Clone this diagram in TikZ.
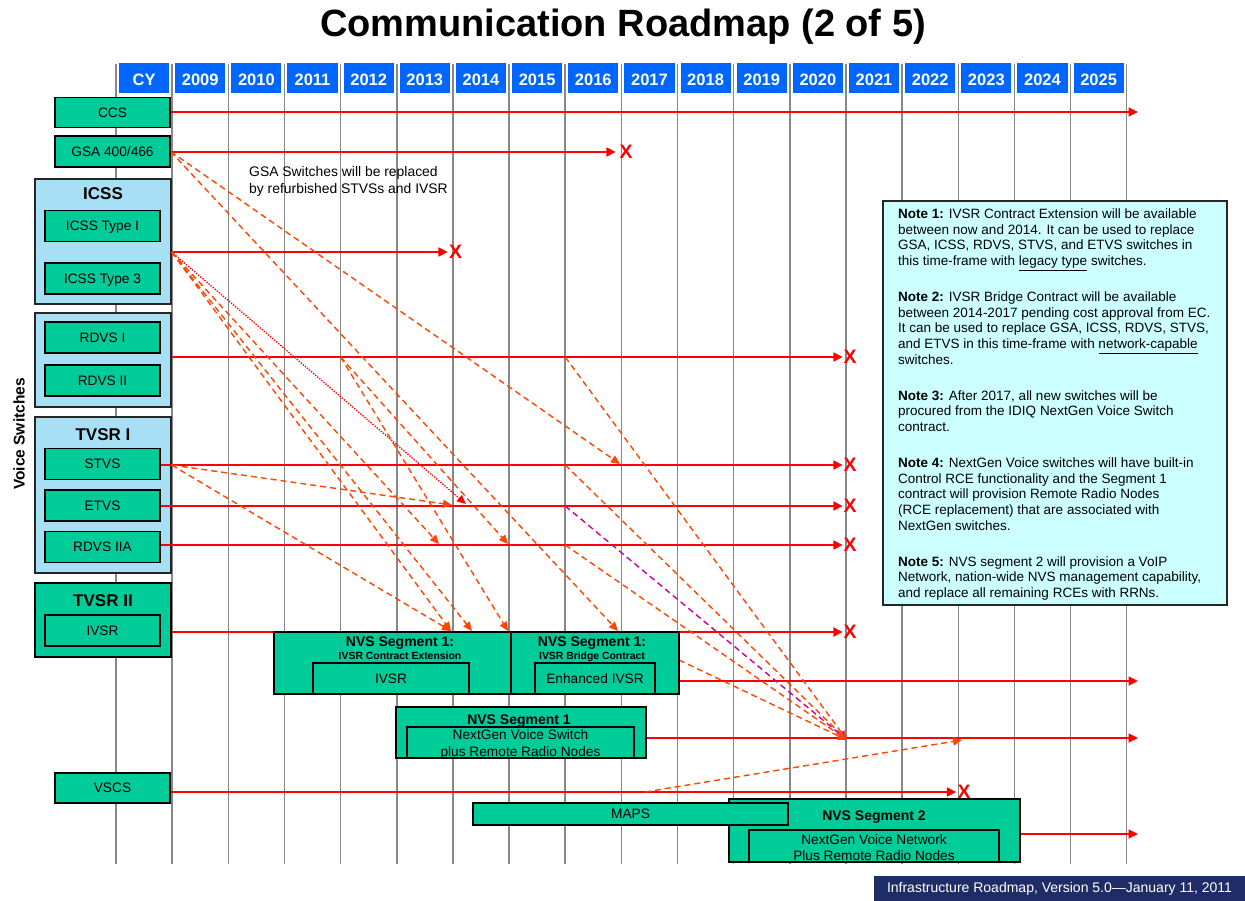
\documentclass[tikz,border=0pt]{standalone}
\usepackage{fontspec}
\setmainfont{Liberation Sans}
\usetikzlibrary{arrows.meta}
\pgfdeclarelayer{gridlayer}
\pgfdeclarelayer{grouplayer}
\pgfdeclarelayer{linelayer}
\pgfsetlayers{gridlayer,grouplayer,linelayer,main}
\definecolor{boxgreen}{RGB}{0,204,153}
\definecolor{grpblue}{RGB}{167,224,245}
\definecolor{hdrblue}{RGB}{0,102,255}
\definecolor{notecyan}{RGB}{204,255,255}
\definecolor{dashorange}{RGB}{255,69,0}
\definecolor{dashmag}{RGB}{204,0,153}
\definecolor{footnavy}{RGB}{31,45,102}
\definecolor{gridgray}{RGB}{136,136,136}
\definecolor{linered}{RGB}{255,0,0}
\newcommand{\myfs}[2]{\fontsize{#1}{#2}\selectfont}
\begin{document}
\begin{tikzpicture}[x=1pt,y=-1pt,
  every node/.style={inner sep=0pt},
  hdr/.style={fill=hdrblue, text=white, font=\bfseries\myfs{16.5}{18}, minimum width=50.15pt, minimum height=30pt, text height=14.8pt, text depth=0pt},
  gbox/.style={draw=black, line width=1.2pt, fill=boxgreen, font=\myfs{13.7}{16.6}, text height=9.8pt, text depth=0pt},
  grp/.style={draw=black!85, line width=1.2pt, fill=grpblue},
  glabel/.style={font=\bfseries\myfs{17}{20}},
  gridline/.style={draw=gridgray, line width=1.5pt},
  redarrow/.style={draw=linered, line width=1.7pt, -{Triangle[length=9.5pt,width=9pt]}},
  xmark/.style={text=linered, font=\bfseries\myfs{19.5}{20}},
  dasharrow/.style={draw=dashorange, line width=1.4pt, dash pattern=on 6pt off 4pt, -{Triangle[length=9pt,width=8pt]}},
  magarrow/.style={draw=dashmag, line width=1.4pt, dash pattern=on 6pt off 4pt, -{Triangle[length=9pt,width=8pt]}},
  dotarrow/.style={draw=linered, line width=1.3pt, dash pattern=on 1.4pt off 1.3pt, -{Triangle[length=9pt,width=8pt]}},
  segtitle/.style={font=\bfseries\myfs{14}{16}, anchor=base},
  segsub/.style={font=\bfseries\myfs{10.4}{12}, anchor=base},
  segtext/.style={font=\myfs{13.7}{16.6}, anchor=base}
]
\useasboundingbox (0,0) rectangle (1245,901);

% title
\node[font=\bfseries\myfs{38}{40}, anchor=base] (title) at (623,36.7) {Communication Roadmap (2 of 5)};

% grid
\begin{pgfonlayer}{gridlayer}
\foreach \i in {0,...,18}
  \draw[gridline] ({116+56.15*\i},64) -- ({116+56.15*\i},864);
\end{pgfonlayer}

% header
\foreach \lab [count=\i from 0] in {CY,2009,2010,2011,2012,2013,2014,2015,2016,2017,2018,2019,2020,2021,2022,2023,2024,2025}
  \node[hdr] (h\i) at ({144.075+56.15*\i},78.5) {\lab};

% group boxes
\begin{pgfonlayer}{grouplayer}
\node[grp, minimum width=136pt, minimum height=125pt] (icssgrp) at (103,241.5) {};
\node[grp, minimum width=136pt, minimum height=94pt] (rdvsgrp) at (103,360) {};
\node[grp, minimum width=136pt, minimum height=156pt] (tvsr1grp) at (103,495) {};
\node[gbox, minimum width=136pt, minimum height=74pt] (tvsr2grp) at (103,620) {};
\end{pgfonlayer}

% left boxes
\node[gbox, minimum width=115pt, minimum height=30pt] (ccs) at (112.5,112.5) {CCS};
\node[gbox, minimum width=115pt, minimum height=31pt] (gsa) at (112.5,151.5) {GSA 400/466};
\node[glabel] (icsslab) at (103,194) {ICSS};
\node[gbox, minimum width=115pt, minimum height=31.5pt] (icss1) at (102.5,226) {ICSS Type I};
\node[gbox, minimum width=115pt, minimum height=31pt] (icss3) at (102.5,278.5) {ICSS Type 3};
\node[gbox, minimum width=115pt, minimum height=31pt] (rdvs1) at (102.5,337.5) {RDVS I};
\node[gbox, minimum width=115pt, minimum height=31pt] (rdvs2) at (102.5,380.5) {RDVS II};
\node[glabel] (tvsr1lab) at (103,435) {TVSR I};
\node[gbox, minimum width=115pt, minimum height=31.5pt] (stvs) at (102.5,464) {STVS};
\node[gbox, minimum width=115pt, minimum height=31pt] (etvs) at (102.5,505.5) {ETVS};
\node[gbox, minimum width=115pt, minimum height=31.5pt] (rdvs2a) at (102.5,547) {RDVS IIA};
\node[glabel] (tvsr2lab) at (103,601) {TVSR II};
\node[gbox, minimum width=115pt, minimum height=31pt] (ivsr) at (102.5,630.5) {IVSR};
\node[gbox, minimum width=115pt, minimum height=30pt] (vscs) at (112.5,788) {VSCS};
\node[font=\bfseries\myfs{15.5}{18}, rotate=90] (vs) at (19,434) {Voice Switches};

% GSA note
\node[anchor=west, align=left, font=\myfs{13.9}{17}] (gsanote) at (249,181.5) {GSA Switches will be replaced\\by refurbished STVSs and IVSR};

% NVS segment boxes
\node[gbox, minimum width=237pt, minimum height=62pt] (segA) at (392.5,663) {};
\node[gbox, minimum width=168pt, minimum height=62pt] (segB) at (595,663) {};
\node[gbox, minimum width=156pt, minimum height=31pt] (segAin) at (391,678.5) {IVSR};
\node[gbox, minimum width=120pt, minimum height=31pt] (segBin) at (595,678.5) {Enhanced IVSR};
\node[segtitle] (segAt) at (400,646.7) {NVS Segment 1:};
\node[segsub] (segAs) at (400,659) {IVSR Contract Extension};
\node[segtitle] (segBt) at (592,646.7) {NVS Segment 1:};
\node[segsub] (segBs) at (592,659) {IVSR Bridge Contract};

\node[gbox, minimum width=250pt, minimum height=51pt] (segC) at (521,732.5) {};
\node[gbox, minimum width=227pt, minimum height=31pt] (segCin) at (520.5,742.5) {};
\node[segtitle] (segCt) at (519,724.3) {NVS Segment 1};
\node[segtext] (segCl1) at (520.5,739.3) {NextGen Voice Switch};
\node[segtext] (segCl2) at (520.5,756) {plus Remote Radio Nodes};

\node[gbox, minimum width=291pt, minimum height=63pt] (seg2) at (874.5,830.5) {};
\node[gbox, minimum width=250pt, minimum height=32pt] (seg2in) at (874,846) {};
\node[segtitle] (seg2t) at (874,820) {NVS Segment 2};
\node[segtext] (seg2l1) at (874,844) {NextGen Voice Network};
\node[segtext] (seg2l2) at (874,860) {Plus Remote Radio Nodes};

\node[gbox, minimum width=315pt, minimum height=22pt] (maps) at (630.5,814) {MAPS};

% note box
\node[draw=black!85, line width=1.2pt, fill=notecyan, minimum width=344pt, minimum height=404pt] (notebox) at (1055,403) {};
\node[anchor=north west, align=left, font=\myfs{13.5}{15.7}] (notetext) at (898,208.5) {%
\textbf{Note 1:} IVSR Contract Extension will be available\\
between now and 2014. It can be used to replace\\
GSA, ICSS, RDVS, STVS, and ETVS switches in\\
this time-frame with \underline{legacy type} switches.\\[20.2pt]
\textbf{Note 2:} IVSR Bridge Contract will be available\\
between 2014-2017 pending cost approval from EC.\\
It can be used to replace GSA, ICSS, RDVS, STVS,\\
and ETVS in this time-frame with \underline{network-capable}\\
switches.\\[20.2pt]
\textbf{Note 3:} After 2017, all new switches will be\\
procured from the IDIQ NextGen Voice Switch\\
contract.\\[20.2pt]
\textbf{Note 4:} NextGen Voice switches will have built-in\\
Control RCE functionality and the Segment 1\\
contract will provision Remote Radio Nodes\\
(RCE replacement) that are associated with\\
NextGen switches.\\[20.2pt]
\textbf{Note 5:} NVS segment 2 will provision a VoIP\\
Network, nation-wide NVS management capability,\\
and replace all remaining RCEs with RRNs.};

% footer
\node[fill=footnavy, text=white, font=\myfs{14}{15}, minimum width=371pt, minimum height=25pt] (footer) at (1059.5,888.5) {Infrastructure Roadmap, Version 5.0—January 11, 2011};

% X marks
\node[xmark] (xgsa) at (626,152) {X};
\node[xmark] (xicss) at (455.5,252) {X};
\node[xmark] (xrdvs) at (850,357) {X};
\node[xmark] (xstvs) at (850,465) {X};
\node[xmark] (xetvs) at (850,506) {X};
\node[xmark] (xrdvs2a) at (850,545) {X};
\node[xmark] (xivsr) at (850,632) {X};
\node[xmark] (xvscs) at (964,792) {X};

% coordinates
\coordinate (eccs) at (1138,112);
\coordinate (esegb) at (1138,681);
\coordinate (esegc) at (1138,738);
\coordinate (eseg2) at (1138,834);
\coordinate (icssS) at (icssgrp.east |- xicss.west);
\coordinate (stvsS) at (tvsr1grp.east |- xstvs.west);
\coordinate (rdvsC) at (340.6,357);
\coordinate (rdvsL) at (565.2,357);
\coordinate (stvsL) at (565.2,465);
\coordinate (etvsL) at (565.2,506);
\coordinate (rdvsaL) at (565.2,545);
\coordinate (vscsD) at (645,792);
\coordinate (segBS) at (679,660);
\coordinate (tStvs) at (620,464);
\coordinate (tEtvsA) at (452,505);
\coordinate (tDot) at (466,504);
\coordinate (tRdvsaA) at (439,544);
\coordinate (tRdvsaB) at (508,544);
\coordinate (tA1) at (451,631);
\coordinate (tA2) at (472,631);
\coordinate (tA3) at (508,631);
\coordinate (tB1) at (618,631);
\coordinate (tConv) at (847,740);
\coordinate (tSegc) at (962,740);

\begin{pgfonlayer}{linelayer}
% solid red lines
\draw[redarrow] (ccs.east |- eccs) -- (eccs);
\draw[redarrow, shorten >=3.5pt] (gsa.east |- xgsa.west) -- (xgsa.west);
\draw[redarrow, shorten >=1pt] (icssS) -- (xicss.west);
\draw[redarrow, shorten >=0.5pt] (rdvsgrp.east |- xrdvs.west) -- (xrdvs.west);
\draw[redarrow, shorten >=0.5pt] (stvs.east |- xstvs.west) -- (xstvs.west);
\draw[redarrow, shorten >=0.5pt] (etvs.east |- xetvs.west) -- (xetvs.west);
\draw[redarrow, shorten >=0.5pt] (rdvs2a.east |- xrdvs2a.west) -- (xrdvs2a.west);
\draw[redarrow, shorten >=0.5pt] (tvsr2grp.east |- xivsr.west) -- (xivsr.west);
\draw[redarrow, shorten >=1pt] (vscs.east |- xvscs.west) -- (xvscs.west);
\draw[redarrow] (segB.east |- esegb) -- (esegb);
\draw[redarrow] (segC.east |- esegc) -- (esegc);
\draw[redarrow] (seg2.east |- eseg2) -- (eseg2);
% dashed arrows
\draw[dasharrow] (gsa.east) -- (tStvs);
\draw[dasharrow] (gsa.east) -- (tB1);
\draw[dotarrow] (icssS) -- (tDot);
\draw[dasharrow] (icssS) -- (tRdvsaA);
\draw[dasharrow] (icssS) -- (tA1);
\draw[dasharrow] (icssS) -- (tA2);
\draw[dasharrow] (rdvsC) -- (tRdvsaB);
\draw[dasharrow] (rdvsC) -- (tA3);
\draw[dasharrow] (stvsS) -- (tEtvsA);
\draw[dasharrow] (stvsS) -- (tA1);
\draw[dasharrow] (rdvsL) -- (tConv);
\draw[dasharrow] (stvsL) -- (tConv);
\draw[magarrow] (etvsL) -- (tConv);
\draw[dasharrow] (rdvsaL) -- (tConv);
\draw[dasharrow] (segBS) -- (tConv);
\draw[dasharrow] (vscsD) -- (tSegc);
\end{pgfonlayer}
\end{tikzpicture}
\end{document}
